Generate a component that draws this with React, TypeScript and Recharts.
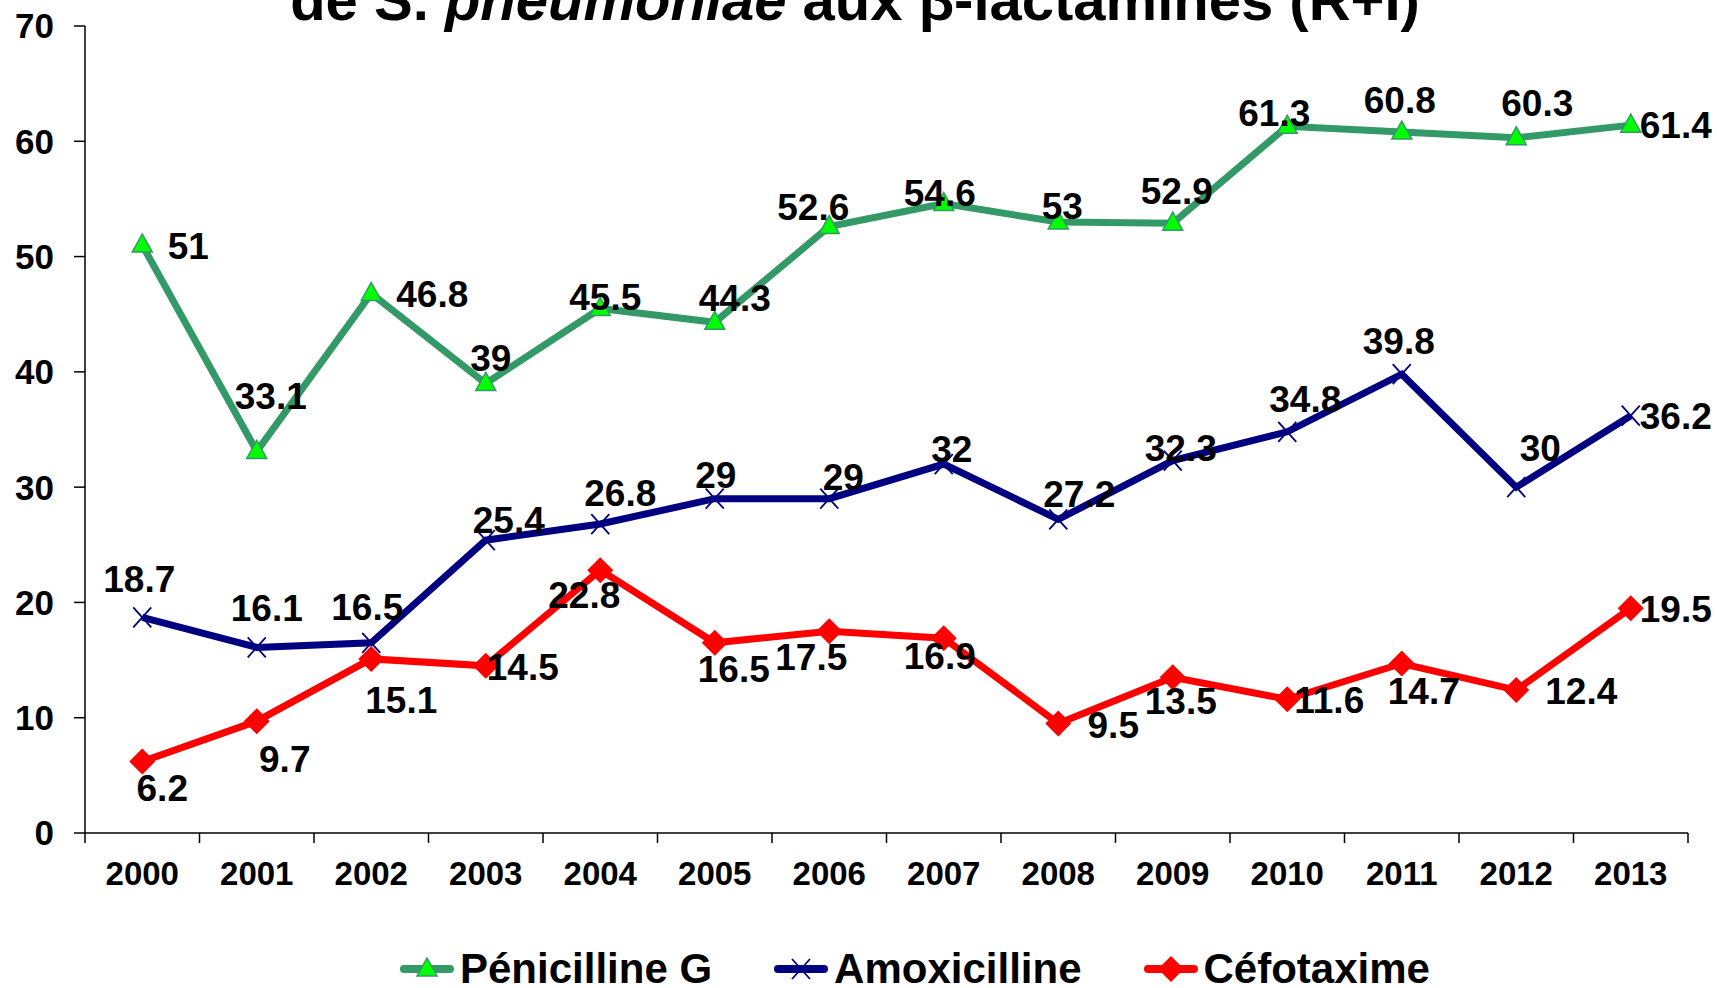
import { LineChart, Line, XAxis, YAxis, LabelList } from "recharts";

const years = ["2000", "2001", "2002", "2003", "2004", "2005", "2006", "2007", "2008", "2009", "2010", "2011", "2012", "2013"];
const penicilline = [51, 33.1, 46.8, 39, 45.5, 44.3, 52.6, 54.6, 53, 52.9, 61.3, 60.8, 60.3, 61.4];
const amoxicilline = [18.7, 16.1, 16.5, 25.4, 26.8, 29, 29, 32, 27.2, 32.3, 34.8, 39.8, 30, 36.2];
const cefotaxime = [6.2, 9.7, 15.1, 14.5, 22.8, 16.5, 17.5, 16.9, 9.5, 13.5, 11.6, 14.7, 12.4, 19.5];
const yTicks = [0, 10, 20, 30, 40, 50, 60, 70];

// label nudges (label centre relative to point), px
const penLabelPos = [[46, 1], [14, -55], [61, 1], [5, -25], [5, -11], [20, -24], [-16, -19], [-4, -10], [4, -15], [4, -32], [-13, -13], [-2, -32], [21, -34], [45, 0]];
const amoxLabelPos = [[-3, -38], [10, -39], [-4, -35], [23, -20], [20, -31], [1, -23], [14, -21], [8, -15], [21, -25], [8, -12], [18, -32], [-3, -33], [24, -39], [45, 1]];
const cefLabelPos = [[20, 27], [28, 38], [30, 42], [37, 2], [-16, 25], [19, 27], [-18, 26], [-4, 18], [55, 2], [8, 24], [42, 1], [22, 28], [65, 1], [45, 1]];

const data = years.map((year, i) => ({
  year,
  pen: penicilline[i],
  amox: amoxicilline[i],
  cef: cefotaxime[i],
}));

const W = 1717;
const H = 988;
const margin = { top: 26, right: 29, left: 0, bottom: 95 };
const Y_AXIS_W = 85;
const X_AXIS_H = 60;
const plotW = W - Y_AXIS_W - margin.left - margin.right;
const band = plotW / years.length;
const axisY = H - margin.bottom - X_AXIS_H;

const FONT = "'Liberation Sans', Arial, sans-serif";
const GREEN = "#339966";
const NAVY = "#000080";
const RED = "#ff0000";

const Triangle = ({ cx, cy }: any) => {
  if (cx == null || cy == null) return null;
  return (
    <polygon
      points={`${cx},${cy - 11} ${cx - 10},${cy + 7} ${cx + 10},${cy + 7}`}
      fill="#00ff00"
      stroke={GREEN}
      strokeWidth={1.5}
    />
  );
};

const Cross = ({ cx, cy }: any) => {
  if (cx == null || cy == null) return null;
  return (
    <g stroke={NAVY} strokeWidth={1.8}>
      <line x1={cx - 9} y1={cy - 10} x2={cx + 9} y2={cy + 10} />
      <line x1={cx - 9} y1={cy + 10} x2={cx + 9} y2={cy - 10} />
    </g>
  );
};

const Diamond = ({ cx, cy }: any) => {
  if (cx == null || cy == null) return null;
  return <polygon points={`${cx},${cy - 13} ${cx + 13},${cy} ${cx},${cy + 13} ${cx - 13},${cy}`} fill={RED} />;
};

const makeLabel = (pos: number[][]) => (props: any) => {
  const { x, y, value, index } = props;
  const [dx, dy] = pos[index] || [0, -20];
  return (
    <text
      x={x + dx}
      y={y + dy}
      textAnchor="middle"
      dominantBaseline="central"
      fontFamily={FONT}
      fontWeight="bold"
      fontSize={37}
      fill="#000"
    >
      {value}
    </text>
  );
};

const YearTick = (props: any) => {
  const { x, payload, index } = props;
  const left = x - band / 2;
  return (
    <g>
      <line x1={left} y1={axisY} x2={left} y2={axisY + 10} stroke="#000" strokeWidth={1.5} />
      {index === years.length - 1 && (
        <line x1={x + band / 2} y1={axisY} x2={x + band / 2} y2={axisY + 10} stroke="#000" strokeWidth={1.5} />
      )}
      <text
        x={x}
        y={axisY + 40}
        textAnchor="middle"
        dominantBaseline="central"
        fontFamily={FONT}
        fontWeight="bold"
        fontSize={33}
        fill="#000"
      >
        {payload.value}
      </text>
    </g>
  );
};

const legendItems = [
  { name: "Pénicilline G", color: GREEN, mark: "tri" },
  { name: "Amoxicilline", color: NAVY, mark: "x" },
  { name: "Céfotaxime", color: RED, mark: "dia" },
];

const LegendIcon = ({ color, mark }: { color: string; mark: string }) => (
  <svg width={54} height={30}>
    <line x1={4} y1={15} x2={50} y2={15} stroke={color} strokeWidth={8} strokeLinecap="round" />
    {mark === "tri" && <Triangle cx={27} cy={15} />}
    {mark === "x" && <Cross cx={27} cy={15} />}
    {mark === "dia" && <Diamond cx={27} cy={15} />}
  </svg>
);

export default function App() {
  return (
    <div style={{ position: "absolute", left: 0, top: 0, width: W, height: H, overflow: "hidden", background: "#fff" }}>
      <div
        style={{
          position: "absolute",
          left: 0,
          width: 1710,
          top: -29,
          textAlign: "center",
          fontFamily: FONT,
          fontWeight: "bold",
          fontSize: 58,
          lineHeight: "58px",
          whiteSpace: "nowrap",
        }}
      >
        de S. <i>pneumoniae</i> aux β-lactamines (R+I)
      </div>
      <LineChart width={W} height={H} data={data} margin={margin}>
        <XAxis
          dataKey="year"
          height={X_AXIS_H}
          padding={{ left: band / 2, right: band / 2 }}
          axisLine={{ stroke: "#000", strokeWidth: 1.5 }}
          tickLine={false}
          tick={<YearTick />}
          interval={0}
        />
        <YAxis
          width={Y_AXIS_W}
          domain={[0, 70]}
          ticks={yTicks}
          interval={0}
          axisLine={{ stroke: "#000", strokeWidth: 1.5 }}
          tickLine={{ stroke: "#000", strokeWidth: 1.5 }}
          tickSize={11}
          tickMargin={20}
          tick={{ fontFamily: FONT, fontWeight: "bold", fontSize: 35, fill: "#000" }}
        />
        <Line dataKey="pen" name="Pénicilline G" stroke={GREEN} strokeWidth={7} dot={<Triangle />} activeDot={false} isAnimationActive={false}>
          <LabelList dataKey="pen" content={makeLabel(penLabelPos)} />
        </Line>
        <Line dataKey="amox" name="Amoxicilline" stroke={NAVY} strokeWidth={7} dot={<Cross />} activeDot={false} isAnimationActive={false}>
          <LabelList dataKey="amox" content={makeLabel(amoxLabelPos)} />
        </Line>
        <Line dataKey="cef" name="Céfotaxime" stroke={RED} strokeWidth={7} dot={<Diamond />} activeDot={false} isAnimationActive={false}>
          <LabelList dataKey="cef" content={makeLabel(cefLabelPos)} />
        </Line>
      </LineChart>
      <div
        style={{
          position: "absolute",
          left: 400,
          top: 946,
          display: "flex",
          alignItems: "center",
          gap: 62,
          fontFamily: FONT,
          fontWeight: "bold",
          fontSize: 42,
          lineHeight: "46px",
          whiteSpace: "nowrap",
        }}
      >
        {legendItems.map((it) => (
          <div key={it.name} style={{ display: "flex", alignItems: "center", gap: 6 }}>
            <LegendIcon color={it.color} mark={it.mark} />
            <span>{it.name}</span>
          </div>
        ))}
      </div>
    </div>
  );
}
